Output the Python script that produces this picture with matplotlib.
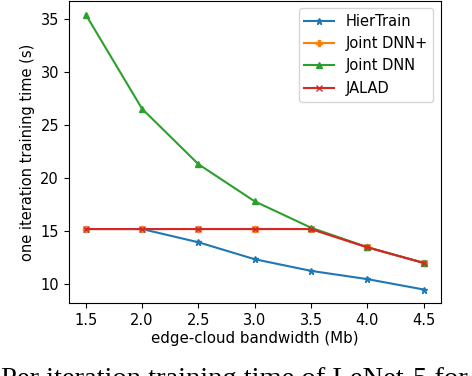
import matplotlib
matplotlib.use('Agg')
import matplotlib.pyplot as plt

bandwidth = [1.5, 2.0, 2.5, 3.0, 3.5, 4.0, 4.5]
hiertrain = [15.15, 15.15, 13.9, 12.3, 11.2, 10.42, 9.44]
joint_dnn_plus = [15.15, 15.15, 15.15, 15.15, 15.15, 13.42, 11.95]
joint_dnn = [35.4, 26.5, 21.27, 17.76, 15.27, 13.43, 11.95]
jalad = [15.15, 15.15, 15.15, 15.15, 15.15, 13.42, 11.95]

fig = plt.figure(figsize=(4.72, 3.76), dpi=100)
ax = fig.add_axes([0.1458, 0.1934, 0.7879, 0.8046])

ax.plot(bandwidth, hiertrain, marker='*', markersize=5, label='HierTrain')
ax.plot(bandwidth, joint_dnn_plus, marker='P', markersize=5, label='Joint DNN+')
ax.plot(bandwidth, joint_dnn, marker='^', markersize=5, label='Joint DNN')
ax.plot(bandwidth, jalad, marker='x', markersize=5, label='JALAD')

ax.set_xlabel('edge-cloud bandwidth (Mb)', fontsize=10.8, labelpad=2)
ax.set_ylabel('one iteration training time (s)', fontsize=10.5)
ax.tick_params(labelsize=10.5)
ax.set_yticks([10, 15, 20, 25, 30, 35])
ax.legend(fontsize=10.5, loc='upper right')

# caption of the paper figure, cut off at the bottom edge
fig.text(0.003, 0.025, 'Per iteration training time of LeNet-5 for',
         family=['Liberation Serif', 'DejaVu Serif'], fontsize=20.5, va='top', ha='left')

fig.savefig('out.png')
